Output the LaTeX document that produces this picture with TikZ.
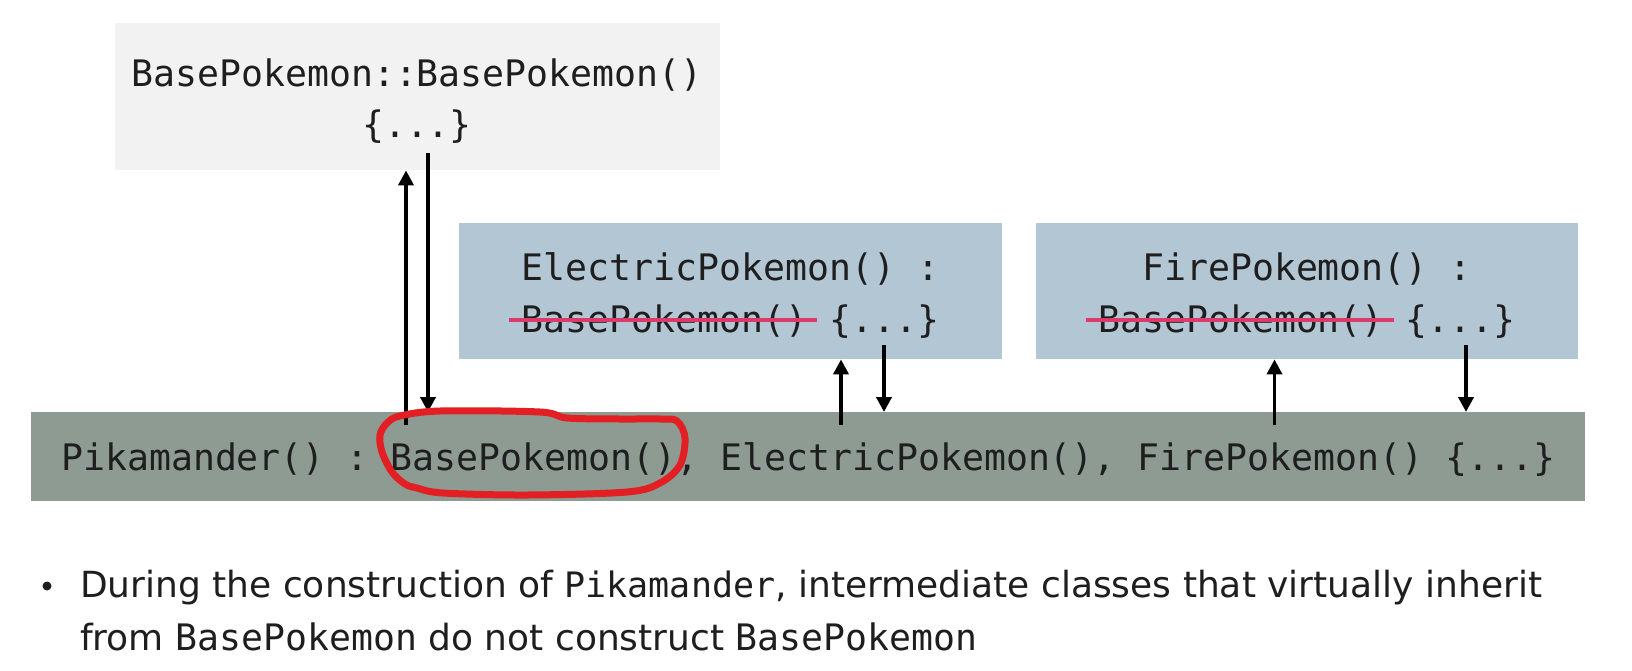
\documentclass[tikz,border=0pt]{standalone}
\usepackage{fontspec}
\setmainfont{DejaVu Sans}
\setmonofont{DejaVu Sans Mono}
\usetikzlibrary{arrows.meta}
\definecolor{topgray}{HTML}{F2F2F2}
\definecolor{boxblue}{HTML}{B3C6D4}
\definecolor{bargreen}{HTML}{8D9B93}
\definecolor{strikecol}{HTML}{DB3A6B}
\definecolor{loopred}{HTML}{E21F22}
\definecolor{ink}{HTML}{1E1E1E}
\begin{document}
\begin{tikzpicture}[x=1pt,y=-1pt,
  box/.style={fill=#1, inner sep=0pt, anchor=north west, draw=none},
  code/.style={font=\fontsize{36.5}{44}\ttfamily, text=ink, inner sep=0pt, anchor=base},
  arr/.style={line width=3.8pt, -{Triangle[length=15pt,width=15pt]}},
  strike/.style={line width=4pt, strikecol},
  redloop/.style={line width=7pt, loopred, line join=round},
  bullettext/.style={font=\fontsize{36}{43}\selectfont, text=ink, inner sep=0pt, anchor=base west}]
\useasboundingbox (0,0) rectangle (1632,670);
\fill[white] (0,0) rectangle (1632,670);
% boxes
\node[box=topgray, minimum width=605.5pt, minimum height=147pt] (base) at (114.5,23) {};
\node[box=boxblue, minimum width=543pt, minimum height=136pt] (elec) at (459,223) {};
\node[box=boxblue, minimum width=542pt, minimum height=136pt] (fire) at (1036,223) {};
\node[box=bargreen, minimum width=1554pt, minimum height=89pt] (bar) at (31,412) {};
% texts
\node[code] (b1) at (417,86) {BasePokemon::BasePokemon()};
\node[code] (b2) at (417,137) {\{...\}};
\node[code] (e1) at (730.5,280) {ElectricPokemon() :};
\node[code] (e2) at (730.5,332) {BasePokemon() \{...\}};
\node[code] (f1) at (1307,280) {FirePokemon() :};
\node[code] (f2) at (1307,332) {BasePokemon() \{...\}};
\node[code, anchor=base west] (p) at (61,470) {Pikamander() : BasePokemon(), ElectricPokemon(), FirePokemon() \{...\}};
% strikes
\coordinate (es1) at (508.5,320); \coordinate (es2) at (817,320);
\coordinate (fs1) at (1085.5,320); \coordinate (fs2) at (1393.5,320);
\draw[strike] (es1) -- (es2);
\draw[strike] (fs1) -- (fs2);
% arrows
\coordinate (u1) at (406,425);
\coordinate (d1) at (428,153);
\coordinate (u2) at (841,425);
\coordinate (d2) at (884,345);
\coordinate (u3) at (1274.5,425);
\coordinate (d3) at (1466,345);
\draw[arr] (u1) -- (base.south -| u1);
\draw[arr] (d1) -- (bar.north -| d1);
\draw[arr] (u2) -- (elec.south -| u2);
\draw[arr] (d2) -- (bar.north -| d2);
\draw[arr] (u3) -- (fire.south -| u3);
\draw[arr] (d3) -- (bar.north -| d3);
% red hand-drawn loop
\draw[redloop] plot[smooth cycle, tension=0.55] coordinates {
  (400,416) (440,411) (540,412) (567,418) (620,419) (660,419) (677,421)
  (685,438) (680,465) (660,483) (627,492) (527,495) (443,493) (417,488)
  (405,484) (392,472) (382,452) (380,435) (387,423)};
% bullet
\node[circle, fill=ink, inner sep=0pt, minimum size=9pt] (dot) at (47,586) {};
\node[bullettext] (l1) at (80,597) {During the construction of {\fontsize{35}{42}\ttfamily Pikamander}, intermediate classes that virtually inherit};
\node[bullettext] (l2) at (80,650) {from {\fontsize{36.5}{43}\ttfamily BasePokemon} do not construct {\fontsize{36.5}{43}\ttfamily BasePokemon}};
\end{tikzpicture}
\end{document}
